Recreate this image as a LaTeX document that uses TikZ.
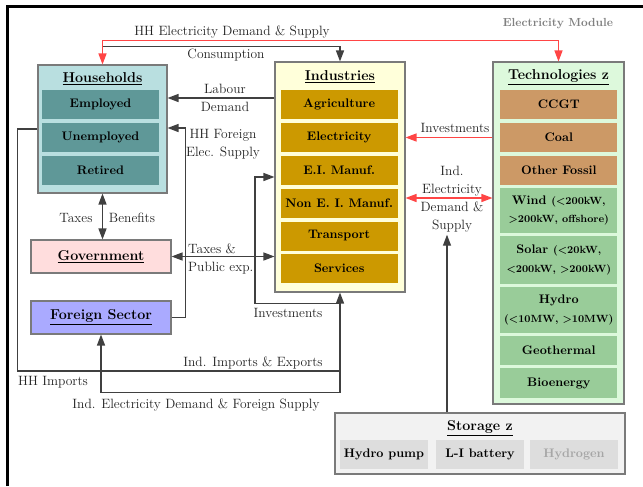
\documentclass[tikz,border=0pt]{standalone}
\usetikzlibrary{arrows.meta}

\definecolor{hhfill}{HTML}{B9DFE0}
\definecolor{hhrow}{HTML}{5F9898}
\definecolor{indfill}{HTML}{FFFFDA}
\definecolor{indrow}{HTML}{CC9900}
\definecolor{techfill}{HTML}{DDF9DC}
\definecolor{fossilrow}{HTML}{CC9966}
\definecolor{renewrow}{HTML}{99CC99}
\definecolor{govfill}{HTML}{FFDDDD}
\definecolor{fsfill}{HTML}{AAAAFF}
\definecolor{stofill}{HTML}{F2F2F2}
\definecolor{storow}{HTML}{DDDDDD}
\definecolor{boxgray}{HTML}{7A7A7A}
\definecolor{flowgray}{HTML}{404040}
\definecolor{flowred}{HTML}{FF4545}
\definecolor{labeltext}{HTML}{222222}

\tikzset{
  mainbox/.style={shape=rectangle, draw=boxgray, line width=0.9pt, inner sep=0pt},
  rowbox/.style={shape=rectangle, inner sep=0pt, minimum width=35.1mm, minimum height=8.7mm,
    align=center, font=\fontsize{10.6}{16}\selectfont\bfseries},
  boxtitle/.style={font=\fontsize{12.2}{14}\selectfont\bfseries, inner sep=0pt},
  flowlabel/.style={font=\fontsize{11.5}{15.4}\selectfont, text=labeltext, align=center, inner sep=0pt},
  flow/.style={draw=flowgray, line width=1.1pt},
  flowarrow/.style={flow, -{Triangle[length=3.3mm, width=2.4mm]}},
  flowboth/.style={flow, {Triangle[length=3.3mm, width=2.4mm]}-{Triangle[length=3.3mm, width=2.4mm]}},
  redarrow/.style={draw=flowred, line width=1.1pt, -{Triangle[length=3.3mm, width=2.4mm]}},
  redboth/.style={draw=flowred, line width=1.1pt, {Triangle[length=3.3mm, width=2.4mm]}-{Triangle[length=3.3mm, width=2.4mm]}},
}
\newcommand{\parenpart}[1]{{\fontsize{8.9}{16}\selectfont #1}}

\begin{document}
\begin{tikzpicture}[x=0.3mm, y=-0.3mm]
		\useasboundingbox (0,0) rectangle (643,486);
		% Frame:
		\draw[line width=2.2pt] (7.5,486) -- (7.5,6.5) -- (643,6.5);
		% Households:
		\node[mainbox, fill=hhfill, minimum width=38.7mm, minimum height=38.4mm] (hh) at (102.5,129){};
		\node[boxtitle] (hhtitle) at (102.5,79){\underline{Households}};
		\node[rowbox, fill=hhrow] (emp) at (100.5,104.5){Employed};
		\node[rowbox, fill=hhrow] (unemp) at (100.5,137.5){Unemployed};
		\node[rowbox, fill=hhrow] (ret) at (100.5,170.5){Retired};
		% Industries:
		\node[mainbox, fill=indfill, minimum width=39mm, minimum height=69mm] (ind) at (340,177){};
		\node[boxtitle] (indtitle) at (340,77){\underline{Industries}};
		\node[rowbox, fill=indrow] (agri) at (339.2,104.5){Agriculture};
		\node[rowbox, fill=indrow] (elec) at (339.2,137.5){Electricity};
		\node[rowbox, fill=indrow] (eim) at (339.2,170.5){E.I. Manuf.};
		\node[rowbox, fill=indrow] (neim) at (339.2,203){Non E. I. Manuf.};
		\node[rowbox, fill=indrow] (trans) at (339.2,236){Transport};
		\node[rowbox, fill=indrow] (serv) at (339.2,268.5){Services};
		% Technologies:
		\node[mainbox, fill=techfill, minimum width=39.3mm, minimum height=102.6mm] (tech) at (558.5,233){};
		\node[boxtitle] (techtitle) at (558.5,77){\underline{Technologies z}};
		\node[rowbox, fill=fossilrow] (ccgt) at (558.8,104.5){CCGT};
		\node[rowbox, fill=fossilrow] (coal) at (558.8,137.5){Coal};
		\node[rowbox, fill=fossilrow] (ofos) at (558.8,170.5){Other Fossil};
		\node[rowbox, fill=renewrow, minimum height=13.5mm] (wind) at (558.8,210.5){Wind \parenpart{(<200kW,}\\\parenpart{>200kW, offshore)}};
		\node[rowbox, fill=renewrow, minimum height=14.4mm] (solar) at (558.8,260){Solar \parenpart{(<20kW,}\\\parenpart{<200kW, >200kW)}};
		\node[rowbox, fill=renewrow, minimum height=13.8mm] (hydro) at (558.8,310){Hydro\\\parenpart{(<10MW, >10MW)}};
		\node[rowbox, fill=renewrow] (geo) at (558.8,350.5){Geothermal};
		\node[rowbox, fill=renewrow, minimum height=9mm] (bio) at (558.8,383){Bioenergy};
		\node[font=\fontsize{10}{12}\selectfont\bfseries, text=gray] (module) at (558,24){Electricity Module};
		% Government and foreign sector:
		\node[mainbox, boxtitle, fill=govfill, minimum width=42mm, minimum height=9.9mm] (gov) at (101,256.5){\underline{Government}};
		\node[mainbox, boxtitle, fill=fsfill, minimum width=42mm, minimum height=9.9mm] (fs) at (101,317.5){\underline{Foreign Sector}};
		% Storage:
		\node[mainbox, fill=stofill, minimum width=87mm, minimum height=18.3mm] (sto) at (480,443.5){};
		\node[boxtitle] (stotitle) at (480,428){\underline{Storage z}};
		\node[rowbox, fill=storow, minimum width=26.4mm] (pump) at (384,454.5){Hydro pump};
		\node[rowbox, fill=storow, minimum width=26.4mm] (lib) at (480,454.5){L-I battery};
		\node[rowbox, fill=storow, minimum width=26.4mm, text=gray!70] (htwo) at (574,454.5){Hydrogen};
		% Labels:
		\node[flowlabel] (hhelab) at (232,32){HH Electricity Demand \& Supply};
		\node[flowlabel] (conslab) at (226,55){Consumption};
		\node[flowlabel] (labourlab) at (225,98){Labour\\Demand};
		\node[flowlabel] (hhfeslab) at (223,144){HH Foreign\\Elec. Supply};
		\node[flowlabel] (taxlab) at (76,218){Taxes};
		\node[flowlabel] (benlab) at (132,218){Benefits};
		\node[flowlabel, align=left, anchor=west] (publab) at (188,259){Taxes \&\\Public exp.};
		\node[flowlabel] (redinvlab) at (455,128){Investments};
		\node[flowlabel, inner sep=2pt] (ielab) at (452,199){Ind.\\Electricity\\Demand \&\\Supply};
		\node[flowlabel] (invlab) at (288,313){Investments};
		\node[flowlabel] (impexplab) at (253,363){Ind. Imports \& Exports};
		\node[flowlabel] (hhimplab) at (53,382){HH Imports};
		\node[flowlabel] (fsuplab) at (196,405){Ind. Electricity Demand \& Foreign Supply};
		% Flows:
		\draw[flowarrow] (hh.north) ++(0,-18) -| (ind.north);
		\draw[redboth] (hh.north) -- ++(0,-24) -| (tech.north);
		\draw[flowarrow] (ind.west |- 0,98) -- (hh.east |- 0,98);
		\draw[flowarrow] (fs.east) -- ++(14,0) |- (hh.east |- 0,128);
		\draw[flowboth] (hh.south) -- (hh.south |- gov.north);
		\draw[flowboth] (gov.east) -- (ind.west |- gov.east);
		\draw[flow] (hh.west |- 0,129) -- ++(-20,0) |- (ind.south |- 0,371);
		\draw[flowboth] (ind.south) -- ++(0,100) -| (fs.south);
		\draw[flowarrow] (ind.south) ++(0,11) -- ++(-85,0) |- (ind.west);
		\draw[redarrow] (tech.west |- coal) -- (ind.east |- coal);
		\draw[redboth] (ind.east |- 0,198) -- (tech.west |- 0,198);
		\draw[flowarrow] (sto.north -| 447,0) -- (ielab.south -| 447,0);
	\end{tikzpicture}
\end{document}
